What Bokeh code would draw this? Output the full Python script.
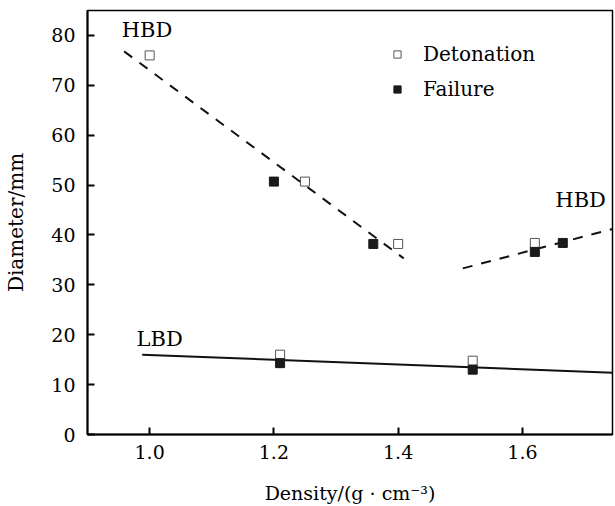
from bokeh.plotting import figure
from bokeh.models import (Legend, LegendItem, Label,
                          FixedTicker, NumeralTickFormatter, Range1d)
from bokeh.embed import file_html
from bokeh.resources import INLINE

# Measured critical diameters versus charge density
det_x = [1.00, 1.25, 1.40, 1.21, 1.52, 1.62]
det_y = [76.0, 50.7, 38.2, 16.0, 14.8, 38.4]
fail_x = [1.20, 1.36, 1.21, 1.52, 1.62, 1.665]
fail_y = [50.7, 38.2, 14.3, 13.0, 36.6, 38.4]

# Trend lines for the two density regimes
hbd_low_x = [0.959, 1.409]
hbd_low_y = [76.8, 35.3]
hbd_high_x = [1.504, 1.745]
hbd_high_y = [33.3, 41.2]
lbd_x = [0.988, 1.745]
lbd_y = [16.0, 12.4]

x_ticks = [1.0, 1.2, 1.4, 1.6]
y_ticks = [0, 10, 20, 30, 40, 50, 60, 70, 80]

FONT = "DejaVu Serif"

p = figure(width=615, height=506, output_backend="svg", toolbar_location=None,
           x_range=Range1d(0.9, 1.745), y_range=Range1d(0, 85),
           min_border_left=87, min_border_right=3, min_border_top=10,
           min_border_bottom=72)
p.background_fill_color = "white"
p.border_fill_color = "white"
p.outline_line_color = "black"
p.outline_line_width = 1.5
p.xgrid.visible = False
p.ygrid.visible = False

for ax in (p.xaxis[0], p.yaxis[0]):
    ax.axis_line_width = 2
    ax.axis_line_color = "black"
    ax.major_tick_in = 7
    ax.major_tick_out = 0
    ax.major_tick_line_width = 2
    ax.minor_tick_line_color = None
    ax.major_label_text_font = FONT
    ax.major_label_text_font_size = "19px"
    ax.major_label_text_color = "black"
    ax.axis_label_text_font = FONT
    ax.axis_label_text_font_style = "normal"
    ax.axis_label_text_color = "black"

p.xaxis.axis_label_text_font_size = "19px"
p.yaxis.axis_label_text_font_size = "20px"
p.xaxis.ticker = FixedTicker(ticks=x_ticks)
p.xaxis.formatter = NumeralTickFormatter(format="0.0")
p.yaxis.ticker = FixedTicker(ticks=y_ticks)
p.xaxis.major_label_standoff = 10
p.yaxis.major_label_standoff = 12
p.xaxis.axis_label = "Density/(g \u00b7 cm\u207b\u00b3)"
p.yaxis.axis_label = "Diameter/mm"
p.xaxis.axis_label_standoff = 20
p.yaxis.axis_label_standoff = 20

# Trend lines
p.line(hbd_low_x, hbd_low_y, line_color="#111111", line_width=2, line_dash="10 9")
p.line(hbd_high_x, hbd_high_y, line_color="#111111", line_width=2, line_dash="10 9")
p.line(lbd_x, lbd_y, line_color="#111111", line_width=2)

# Data points
det = p.scatter(x=det_x, y=det_y, marker="square", size=9,
                fill_color="white", line_color="#555555", line_width=1)
fail = p.scatter(x=fail_x, y=fail_y, marker="square", size=9,
                 fill_color="#1a1a1a", line_color="#1a1a1a", line_width=1)

legend = Legend(items=[LegendItem(label="Detonation", renderers=[det]),
                       LegendItem(label="Failure", renderers=[fail])],
                location=(301, 330))
legend.border_line_color = None
legend.background_fill_alpha = 0
legend.padding = 0
legend.margin = 0
legend.spacing = 5
legend.glyph_width = 18
legend.glyph_height = 30
legend.label_height = 30
legend.label_standoff = 17
legend.label_text_font = FONT
legend.label_text_font_size = "20px"
legend.label_text_color = "black"
p.add_layout(legend)

# Regime annotations
for txt, lx, ly in [("HBD", 0.955, 81.0), ("HBD", 1.653, 47.1), ("LBD", 0.979, 19.2)]:
    p.add_layout(Label(x=lx, y=ly, text=txt, text_font=FONT, text_font_size="21px",
                       text_color="black", text_baseline="alphabetic"))

open("out.html", "w").write(file_html(p, INLINE))
